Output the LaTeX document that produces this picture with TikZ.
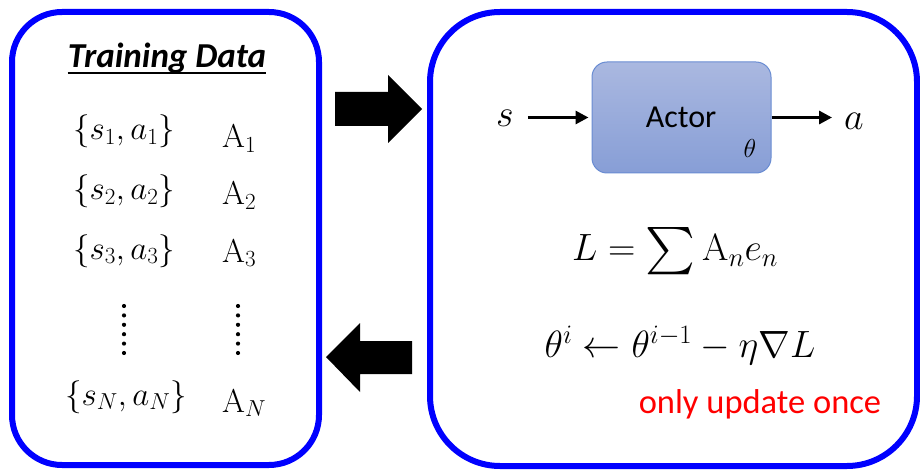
\RequirePackage{fix-cm}
\documentclass[tikz,border=0pt]{standalone}
\usepackage{exscale}
\usepackage{graphicx}
\usepackage[no-math]{fontspec}
\setmainfont{Carlito}
\usetikzlibrary{arrows.meta}
\definecolor{actortop}{RGB}{170,184,224}
\definecolor{actorbot}{RGB}{135,158,214}
\definecolor{actorline}{RGB}{105,140,210}
\newcommand{\bigsumsym}{\mathop{\vcenter{\hbox{\scalebox{1.9}{$\sum$}}}}}
\begin{document}
\begin{tikzpicture}[x=1pt,y=-1pt,
  panel/.style={draw=blue, line width=6pt, rounded corners=#1},
  bigarrow/.style={fill=black, draw=none},
  thinarrow/.style={line width=3pt, -{Triangle[length=13pt,width=13pt]}},
  mleft/.style={anchor=base, inner sep=0pt, font=\fontsize{33}{40}\selectfont},
  mright/.style={anchor=base, inner sep=0pt, font=\fontsize{38}{46}\selectfont},
  dotcol/.style={fill=black},
  actorbox/.style={draw=actorline, line width=1pt, rounded corners=15pt,
    top color=actortop, bottom color=actorbot, minimum width=179pt, minimum height=111pt, inner sep=0pt}
]
\useasboundingbox (0,0) rectangle (920,470);
% panels
\draw[panel=50pt] (12,12) rectangle (319,465);
\draw[panel=70pt] (430,12) rectangle (917,466);
% big arrows
\fill[bigarrow] (335,92) -- (388,92) -- (388,75) -- (422,109) -- (388,143) -- (388,126) -- (335,126) -- cycle;
\fill[bigarrow] (412,341) -- (360,341) -- (360,323) -- (326,357) -- (360,392) -- (360,374) -- (412,374) -- cycle;
% training data
\node[anchor=base, inner sep=0pt, font=\fontsize{35}{42}\selectfont\bfseries\itshape] (td) at (167,68) {Training Data};
\draw[line width=1.6pt] ([yshift=-5pt]td.base west) -- ([yshift=-5pt]td.base east);
\node[mleft] (p1) at (124,140) {$\{s_1,a_1\}$};
\node[mleft] (p2) at (124,200) {$\{s_2,a_2\}$};
\node[mleft] (p3) at (124,259) {$\{s_3,a_3\}$};
\node[mleft] (pn) at (126,405) {$\{s_N,a_N\}$};
\node[mleft, anchor=base west] (a1) at (222,148) {$\mathrm{A}_1$};
\node[mleft, anchor=base west] (a2) at (222,205) {$\mathrm{A}_2$};
\node[mleft, anchor=base west] (a3) at (222,262) {$\mathrm{A}_3$};
\node[mleft, anchor=base west] (an) at (222,412) {$\mathrm{A}_N$};
\foreach \k in {0,...,5}{
  \fill[dotcol] (124,306+9.4*\k) circle (2.1pt);
  \fill[dotcol] (238,306+9.4*\k) circle (2.1pt);
}
% actor
\node[actorbox] (actor) at (681.5,117.5) {};
\node[anchor=base, inner sep=0pt, font=\fontsize{32}{38}\selectfont] (actortxt) at (681,128) {Actor};
\node[anchor=base, inner sep=0pt, font=\fontsize{26}{30}\selectfont] (theta) at (750,158) {$\theta$};
\node[mright, anchor=base] (s) at (505,127) {$s$};
\node[mright, anchor=base] (a) at (854,130) {$a$};
\draw[thinarrow, shorten <=14pt, shorten >=3pt] (s.east |- actor.west) -- (actor.west);
\draw[thinarrow, shorten >=12pt] (actor.east) -- (a.west |- actor.east);
% formulas
\node[mright] (loss) at (675,261) {$L=\bigsumsym \mathrm{A}_n e_n$};
\node[mright] (upd) at (680,357) {$\theta^i \leftarrow \theta^{i-1}-\eta\nabla L$};
\node[anchor=base, inner sep=0pt, text=red, font=\fontsize{34.5}{41}\selectfont] (once) at (760,413) {only update once};
\end{tikzpicture}
\end{document}
